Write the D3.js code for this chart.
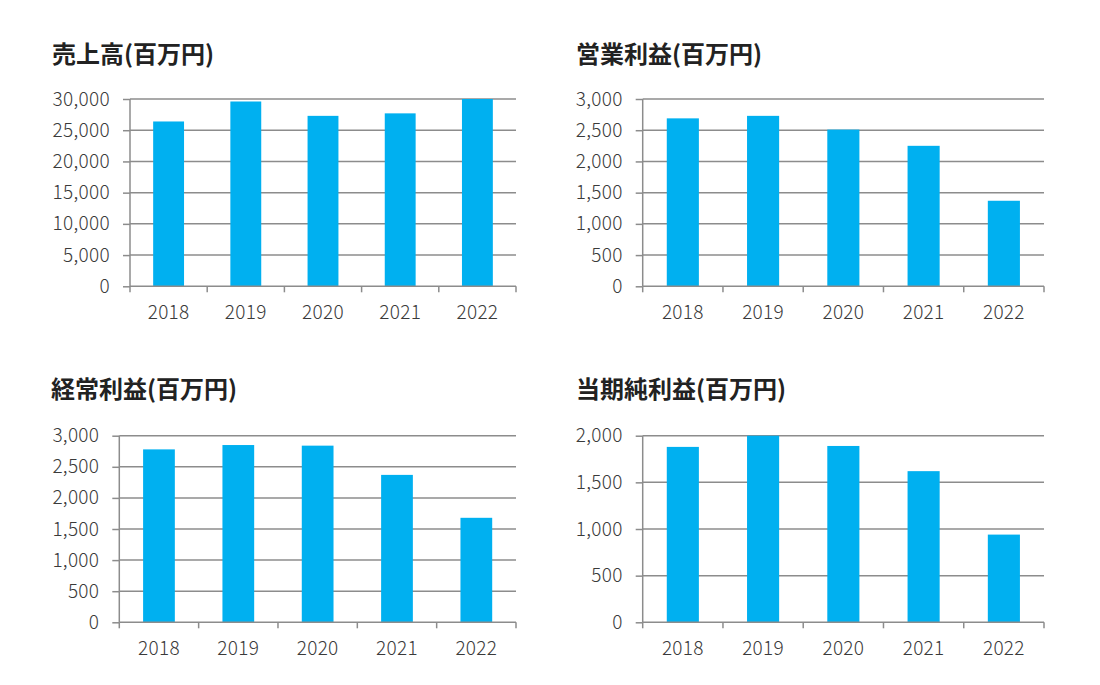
<!DOCTYPE html>
<html>
<head>
<meta charset="utf-8">
<script src="https://cdn.jsdelivr.net/npm/d3@7/dist/d3.min.js"></script>
<style>
  html, body { margin: 0; padding: 0; background: #fff; }
  svg { display: block; }
  text { font-family: "Noto Sans CJK JP", "Noto Sans", sans-serif; }
</style>
</head>
<body>
<svg id="chart" width="1100" height="685"></svg>
<script>
// ---- data ----
const years = ["2018", "2019", "2020", "2021", "2022"];
const titles = ["売上高(百万円)", "営業利益(百万円)", "経常利益(百万円)", "当期純利益(百万円)"];
const sales = [26400, 29600, 27300, 27700, 30000];
const operatingProfit = [2690, 2730, 2510, 2250, 1370];
const ordinaryProfit = [2780, 2850, 2840, 2370, 1680];
const netProfit = [1880, 2000, 1890, 1620, 940];
const yMaxes = [30000, 3000, 3000, 2000];
const yTickSteps = [5000, 500, 500, 500];

const seriesList = [sales, operatingProfit, ordinaryProfit, netProfit];

// ---- layout (positions only) ----
const panels = [
  { titleX: 52, titleY: 52, x0: 130, x1: 516, y0: 99, y1: 286.3 },
  { titleX: 576, titleY: 52, x0: 642.7, x1: 1044, y0: 99, y1: 286.3 },
  { titleX: 51, titleY: 387, x0: 119.3, x1: 516, y0: 435.7, y1: 622.3 },
  { titleX: 576, titleY: 387, x0: 642.7, x1: 1044, y0: 435.7, y1: 622.3 }
];

const svg = d3.select("#chart");
const barColor = "#00B0F0";
const axisColor = "#8c8c8c";
const labelColor = "#3a3a3a";
const fmt = d3.format(",");

panels.forEach((p, i) => {
  const values = seriesList[i];
  const g = svg.append("g");

  g.append("text")
    .attr("x", p.titleX)
    .attr("y", p.titleY)
    .attr("dominant-baseline", "central")
    .attr("font-size", 24)
    .attr("font-weight", 700)
    .attr("fill", "#222")
    .text(titles[i]);

  const xOuter = d3.scaleBand().domain(years).range([p.x0, p.x1]);
  const y = d3.scaleLinear().domain([0, yMaxes[i]]).range([p.y1, p.y0]);
  const ticks = d3.range(0, yMaxes[i] + 1, yTickSteps[i]);

  // gridlines
  g.append("g").selectAll("line").data(ticks.filter(t => t > 0)).join("line")
    .attr("x1", p.x0).attr("x2", p.x1)
    .attr("y1", d => y(d)).attr("y2", d => y(d))
    .attr("stroke", axisColor).attr("stroke-width", 1.5);

  // bars
  const bw = xOuter.bandwidth() * 0.4;
  g.append("g").selectAll("rect").data(values).join("rect")
    .attr("x", (d, j) => xOuter(years[j]) + (xOuter.bandwidth() - bw) / 2)
    .attr("width", bw)
    .attr("y", d => y(Math.min(d, yMaxes[i])))
    .attr("height", d => y(0) - y(Math.min(d, yMaxes[i])))
    .attr("fill", barColor);

  // y axis
  const yAxis = d3.axisLeft(y).tickValues(ticks).tickFormat(fmt).tickSize(7).tickPadding(13);
  const ya = g.append("g").attr("transform", `translate(${p.x0},0)`).call(yAxis);
  ya.select(".domain").attr("stroke", axisColor).attr("stroke-width", 1.5).attr("d", `M0,${p.y0}V${p.y1}`);
  ya.selectAll(".tick line").attr("stroke", axisColor).attr("stroke-width", 1.5);
  ya.selectAll(".tick text")
    .attr("font-size", 19).attr("font-weight", 300).attr("fill", labelColor)
    .attr("letter-spacing", 0.3)
    .attr("font-family", "'Noto Sans CJK JP', sans-serif");

  // x axis
  const xAxis = d3.axisBottom(xOuter).tickSize(0).tickPadding(19);
  const xa = g.append("g").attr("transform", `translate(0,${p.y1})`).call(xAxis);
  xa.select(".domain").attr("stroke", axisColor).attr("stroke-width", 1.5).attr("d", `M${p.x0},0H${p.x1}`);
  xa.selectAll(".tick text")
    .attr("font-size", 19).attr("font-weight", 300).attr("fill", labelColor)
    .attr("letter-spacing", 0.3)
    .attr("font-family", "'Noto Sans CJK JP', sans-serif");
  // boundary tick marks
  const bounds = years.map(yr => xOuter(yr)).concat([p.x1]);
  xa.append("g").selectAll("line").data(bounds).join("line")
    .attr("x1", d => d).attr("x2", d => d)
    .attr("y1", 0).attr("y2", 6)
    .attr("stroke", axisColor).attr("stroke-width", 1.5);
});
</script>
</body>
</html>
